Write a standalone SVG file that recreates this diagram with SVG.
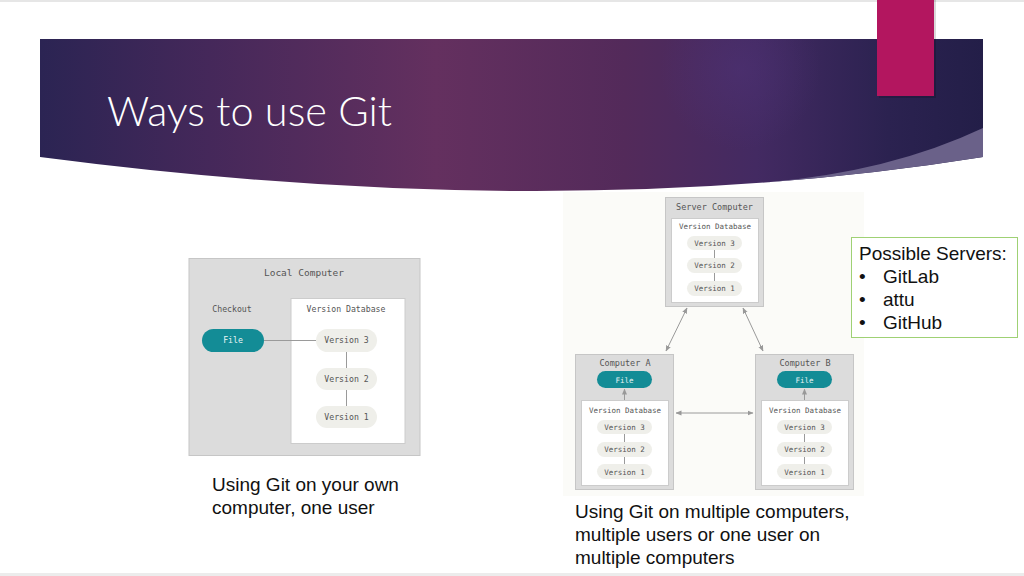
<svg xmlns="http://www.w3.org/2000/svg" width="1024" height="576" viewBox="0 0 1024 576">
<defs>
<linearGradient id="bannerGrad" x1="0" y1="0" x2="1" y2="0">
<stop offset="0" stop-color="#2b2453"/>
<stop offset="0.18" stop-color="#45285a"/>
<stop offset="0.42" stop-color="#64305f"/>
<stop offset="0.62" stop-color="#532a5a"/>
<stop offset="0.76" stop-color="#432a62"/>
<stop offset="0.9" stop-color="#2b2250"/>
<stop offset="1" stop-color="#231e48"/>
</linearGradient>
<radialGradient id="spot" cx="740" cy="70" r="80" gradientUnits="userSpaceOnUse">
<stop offset="0" stop-color="#4f3378" stop-opacity="0.5"/>
<stop offset="1" stop-color="#4f3378" stop-opacity="0"/>
</radialGradient>
<marker id="arr" viewBox="0 0 6 6" refX="5.5" refY="3" markerWidth="6" markerHeight="6" markerUnits="userSpaceOnUse" orient="auto-start-reverse">
<path d="M0,0.5 L6,3 L0,5.5 Z" fill="#999"/>
</marker>
<style>
.box{fill:#dcdcdc;stroke:#c6c6c6;stroke-width:1}
.inner{fill:#ffffff;stroke:#cccccc;stroke-width:1}
.ver{fill:#efefea}
.file{fill:#138c96}
.mono{font-family:"DejaVu Sans Mono","Liberation Mono",monospace;fill:#555;text-anchor:middle}
.ftxt{font-family:"DejaVu Sans Mono","Liberation Mono",monospace;fill:#e8f4f5;text-anchor:middle}
.conn{stroke:#9a9a9a;stroke-width:1;fill:none}
.cap{font-family:"Liberation Sans",Arial,sans-serif;font-size:19px;fill:#111}
</style>
</defs>
<rect x="0" y="0" width="1024" height="576" fill="#ffffff"/>
<rect x="0" y="0" width="1024" height="2" fill="#e6e6e6"/>
<rect x="0" y="573" width="1024" height="3" fill="#ececec"/>

<g id="banner">
<path d="M40,39 H983 V157 Q560,225 40,157 Z" fill="url(#bannerGrad)"/>
<path d="M40,39 H983 V157 Q560,225 40,157 Z" fill="url(#spot)"/>
<path d="M983,128 Q890,172 765,182.5 Q877,174 983,157 Z" fill="#6a6189"/>
<text x="107" y="126" font-family="Lato,'Open Sans',sans-serif" font-weight="300" font-size="41.5" fill="#ffffff">Ways to use Git</text>
</g>
<g id="accent">
<rect x="879" y="0" width="57" height="98" fill="#000" opacity="0.15"/>
<rect x="877" y="0" width="57" height="96" fill="#b3165f"/>
</g>

<!-- Left diagram -->
<g id="local-computer">
<rect class="box" x="189" y="258.5" width="231" height="197"/>
<text class="mono" x="304" y="276" font-size="9.5">Local Computer</text>
<text class="mono" x="232" y="312" font-size="8.2">Checkout</text>
</g>
<g id="local-db">
<rect class="inner" x="291" y="298.5" width="114" height="145"/>
<text class="mono" x="346" y="312" font-size="8.2">Version Database</text>
</g>
<g id="local-file">
<rect class="file" x="202" y="329" width="62" height="23" rx="11.5"/>
<text class="ftxt" x="233" y="343" font-size="8.2">File</text>
</g>
<g id="local-v3">
<rect class="ver" x="316" y="329" width="61" height="23" rx="11.5"/>
<text class="mono" x="346.5" y="343" font-size="8.2">Version 3</text>
</g>
<g id="local-v2">
<rect class="ver" x="316" y="368" width="61" height="22" rx="11"/>
<text class="mono" x="346.5" y="382" font-size="8.2">Version 2</text>
</g>
<g id="local-v1">
<rect class="ver" x="316" y="406" width="61" height="22" rx="11"/>
<text class="mono" x="346.5" y="420" font-size="8.2">Version 1</text>
</g>

<!-- Right diagram -->
<rect x="563" y="192" width="301" height="304" fill="#fbfbf8"/>
<g id="server-computer">
<rect class="box" x="665.5" y="197.5" width="98" height="109"/>
<text class="mono" x="714.5" y="210" font-size="8.5">Server Computer</text>
</g>
<g id="server-db">
<rect class="inner" x="671.5" y="218.5" width="87" height="84"/>
<text class="mono" x="715" y="229" font-size="7.5">Version Database</text>
</g>
<g id="server-v3">
<rect class="ver" x="687" y="236" width="55" height="14" rx="7"/>
<text class="mono" x="714.5" y="245.5" font-size="7.5">Version 3</text>
</g>
<g id="server-v2">
<rect class="ver" x="687" y="258" width="55" height="15" rx="7.5"/>
<text class="mono" x="714.5" y="268" font-size="7.5">Version 2</text>
</g>
<g id="server-v1">
<rect class="ver" x="687" y="281" width="55" height="15" rx="7.5"/>
<text class="mono" x="714.5" y="291" font-size="7.5">Version 1</text>
</g>

<g id="computer-a">
<rect class="box" x="575.5" y="354.5" width="98" height="135"/>
<text class="mono" x="625" y="366" font-size="8.5">Computer A</text>
</g>
<g id="a-file">
<rect class="file" x="597" y="371" width="55" height="17" rx="8.5"/>
<text class="ftxt" x="624.5" y="382.5" font-size="7.5">File</text>
</g>
<g id="a-db">
<rect class="inner" x="581.5" y="400.5" width="87" height="85"/>
<text class="mono" x="625" y="413" font-size="7.5">Version Database</text>
</g>
<g id="a-v3">
<rect class="ver" x="597" y="420" width="55" height="14" rx="7"/>
<text class="mono" x="624.5" y="429.5" font-size="7.5">Version 3</text>
</g>
<g id="a-v2">
<rect class="ver" x="597" y="442" width="55" height="15" rx="7.5"/>
<text class="mono" x="624.5" y="452" font-size="7.5">Version 2</text>
</g>
<g id="a-v1">
<rect class="ver" x="597" y="464" width="55" height="15" rx="7.5"/>
<text class="mono" x="624.5" y="474.5" font-size="7.5">Version 1</text>
</g>

<g id="computer-b">
<rect class="box" x="755.5" y="354.5" width="98" height="135"/>
<text class="mono" x="805" y="366" font-size="8.5">Computer B</text>
</g>
<g id="b-file">
<rect class="file" x="777" y="371" width="55" height="17" rx="8.5"/>
<text class="ftxt" x="804.5" y="382.5" font-size="7.5">File</text>
</g>
<g id="b-db">
<rect class="inner" x="761.5" y="400.5" width="87" height="85"/>
<text class="mono" x="805" y="413" font-size="7.5">Version Database</text>
</g>
<g id="b-v3">
<rect class="ver" x="777" y="420" width="55" height="14" rx="7"/>
<text class="mono" x="804.5" y="429.5" font-size="7.5">Version 3</text>
</g>
<g id="b-v2">
<rect class="ver" x="777" y="442" width="55" height="15" rx="7.5"/>
<text class="mono" x="804.5" y="452" font-size="7.5">Version 2</text>
</g>
<g id="b-v1">
<rect class="ver" x="777" y="464" width="55" height="15" rx="7.5"/>
<text class="mono" x="804.5" y="474.5" font-size="7.5">Version 1</text>
</g>

<g id="connectors">
<line class="conn" x1="264" y1="340.5" x2="316" y2="340.5"/>
<line class="conn" x1="346.5" y1="352" x2="346.5" y2="368"/>
<line class="conn" x1="346.5" y1="390" x2="346.5" y2="406"/>
<line class="conn" x1="714.5" y1="250" x2="714.5" y2="258"/>
<line class="conn" x1="714.5" y1="273" x2="714.5" y2="281"/>
<line class="conn" x1="624.5" y1="434" x2="624.5" y2="442"/>
<line class="conn" x1="624.5" y1="457" x2="624.5" y2="464"/>
<line class="conn" x1="804.5" y1="434" x2="804.5" y2="442"/>
<line class="conn" x1="804.5" y1="457" x2="804.5" y2="464"/>
<line class="conn" x1="624.5" y1="400" x2="624.5" y2="389" marker-end="url(#arr)"/>
<line class="conn" x1="804.5" y1="400" x2="804.5" y2="389" marker-end="url(#arr)"/>
<line class="conn" x1="676" y1="413" x2="753" y2="413" marker-start="url(#arr)" marker-end="url(#arr)"/>
<line class="conn" x1="687" y1="308" x2="666" y2="351" marker-start="url(#arr)" marker-end="url(#arr)"/>
<line class="conn" x1="743" y1="308" x2="763" y2="351" marker-start="url(#arr)" marker-end="url(#arr)"/>
</g>

<g id="possible-servers">
<rect x="851.5" y="237.5" width="166" height="100" fill="#ffffff" stroke="#9fd174" stroke-width="1"/>
<text class="cap" x="859" y="260">Possible Servers:</text>
<text class="cap" x="859" y="283">•</text>
<text class="cap" x="883" y="283">GitLab</text>
<text class="cap" x="859" y="306">•</text>
<text class="cap" x="883" y="306">attu</text>
<text class="cap" x="859" y="329">•</text>
<text class="cap" x="883" y="329">GitHub</text>
</g>

<g id="captions">
<text class="cap" x="212" y="491">Using Git on your own</text>
<text class="cap" x="212" y="514">computer, one user</text>
<text class="cap" x="575" y="518">Using Git on multiple computers,</text>
<text class="cap" x="575" y="541">multiple users or one user on</text>
<text class="cap" x="575" y="564">multiple computers</text>
</g>
</svg>
